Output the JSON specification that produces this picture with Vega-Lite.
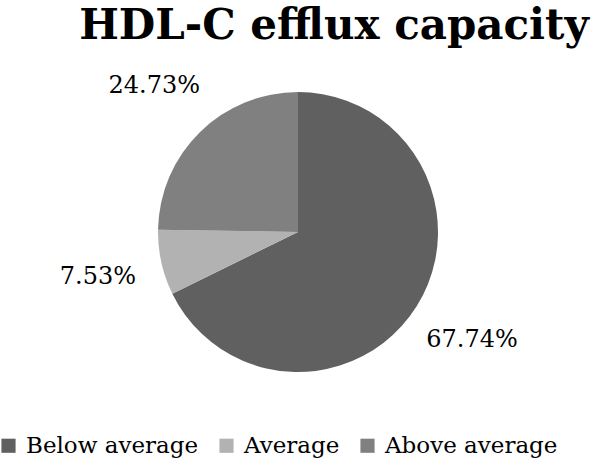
{
  "$schema": "https://vega.github.io/schema/vega-lite/v6.json",
  "width": 596,
  "height": 464,
  "autosize": {"type": "none"},
  "padding": 0,
  "background": "white",
  "title": {
    "text": "HDL-C efflux capacity",
    "font": "DejaVu Serif",
    "fontSize": 42,
    "fontWeight": "bold",
    "color": "black",
    "anchor": "middle",
    "offset": -48,
    "dx": 36
  },
  "data": {
    "values": [
      {"category": "Below average", "pct": 67.74, "idx": 1, "label": "67.74%"},
      {"category": "Average", "pct": 7.53, "idx": 2, "label": "7.53%"},
      {"category": "Above average", "pct": 24.73, "idx": 3, "label": "24.73%"}
    ]
  },
  "encoding": {
    "theta": {"field": "pct", "type": "quantitative", "stack": true},
    "order": {"field": "idx", "type": "quantitative"}
  },
  "layer": [
    {
      "mark": {"type": "arc", "outerRadius": 140, "stroke": null},
      "encoding": {
        "color": {
          "field": "category",
          "type": "nominal",
          "sort": ["Below average", "Average", "Above average"],
          "scale": {"domain": ["Below average", "Average", "Above average"], "range": ["#606060", "#b2b2b2", "#808080"]},
          "legend": {
            "title": null,
            "orient": "none",
            "direction": "horizontal",
            "legendX": -3,
            "legendY": 434,
            "symbolType": "square",
            "symbolSize": 200,
            "symbolStrokeWidth": 0,
            "labelFont": "DejaVu Serif",
            "labelFontSize": 23,
            "labelColor": "black",
            "labelOffset": 6,
            "columnPadding": 16,
            "labelLimit": 300
          }
        }
      }
    },
    {
      "mark": {"type": "text", "radius": 205, "font": "DejaVu Serif", "fontSize": 24, "color": "black"},
      "encoding": {
        "text": {"field": "label"}
      }
    }
  ]
}
